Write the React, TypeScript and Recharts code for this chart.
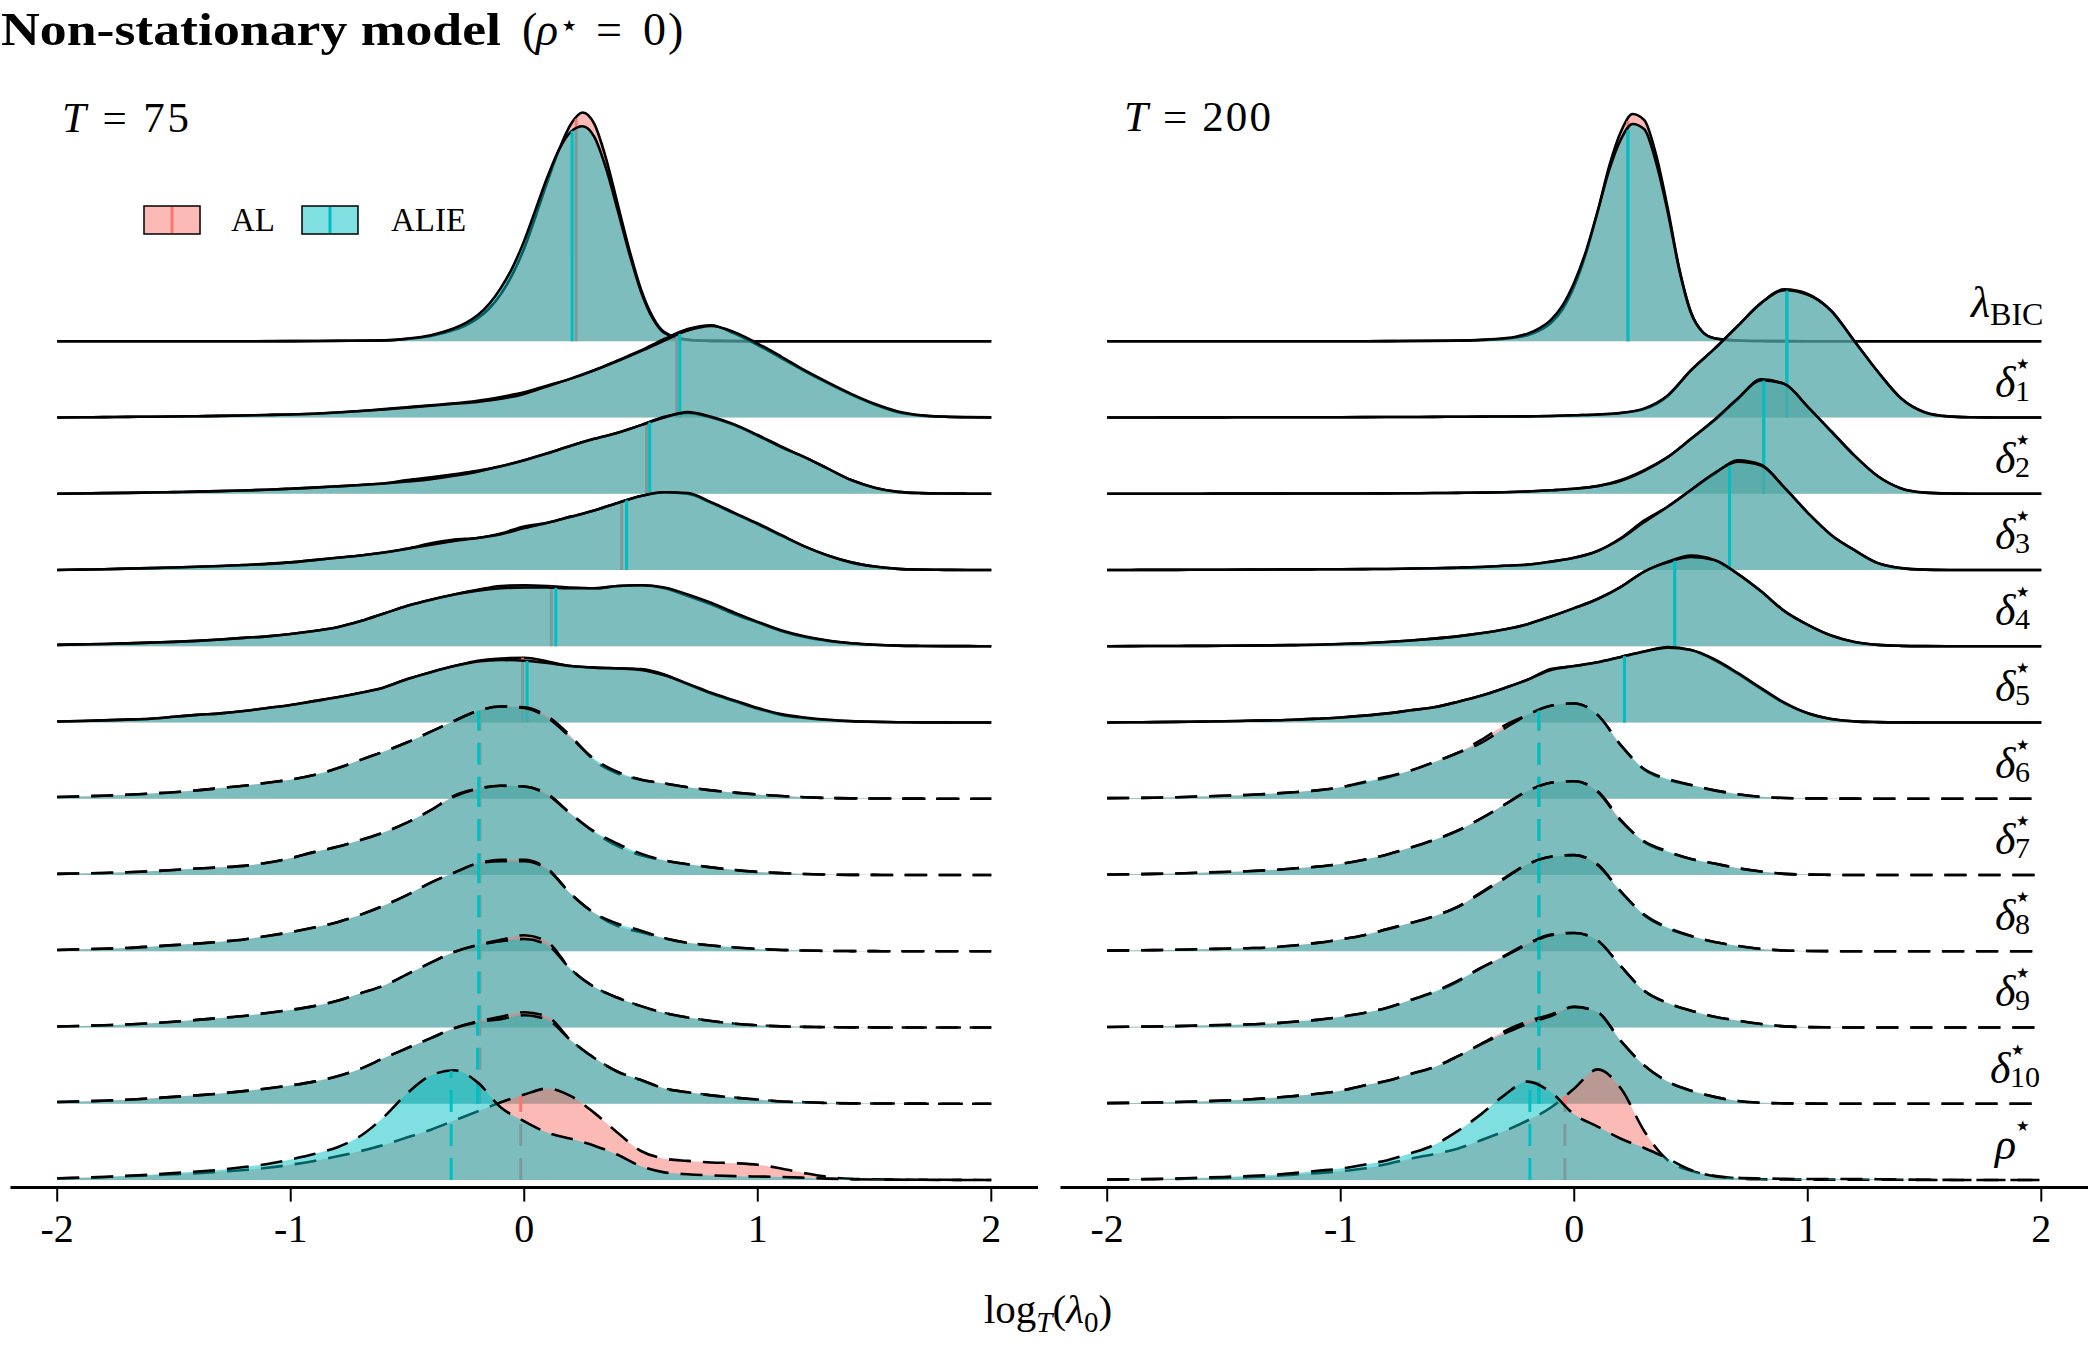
import React from "react";
import { ComposedChart, Area, Line, XAxis, YAxis } from "recharts";

const FONT = '"Liberation Serif", "DejaVu Serif", serif';
const AL_COLOR = "#F8766D";
const ALIE_COLOR = "#00BFC4";

// x grid shared by the ridges (log_T(lambda_0))
const GRID = [
  -2, -1.9, -1.8, -1.7, -1.6, -1.5, -1.4, -1.3, -1.2, -1.1,
  -1, -0.9, -0.8, -0.7, -0.6, -0.5, -0.4, -0.3, -0.2, -0.1,
  0, 0.1, 0.2, 0.3, 0.4, 0.5, 0.6, 0.7, 0.8, 0.9,
  1, 1.1, 1.2, 1.3, 1.4, 1.5, 1.6, 1.7, 1.8, 1.9,
  2,
];
// finer grid for the narrow lambda_BIC ridge
const GRID_BIC = [
  -2, -1.5, -1, -0.8, -0.6, -0.5, -0.4, -0.3, -0.25, -0.2, -0.15, -0.1, -0.05, 0, 0.05, 0.1,
  0.15, 0.2, 0.25, 0.3, 0.35, 0.4, 0.45, 0.5, 0.55, 0.6, 0.7, 0.8, 1, 1.5, 2,
];

const RIDGE_LABELS = ["BIC", "1", "2", "3", "4", "5", "6", "7", "8", "9", "10", "rho"];

// ---------- T = 75 ----------
const AL75_BIC = [0, 0, 0.002, 0.005, 0.01, 0.03, 0.07, 0.15, 0.21, 0.3, 0.43, 0.62, 0.88, 1.22, 1.65, 2.1, 2.52, 2.85, 3.0, 2.85, 2.4, 1.8, 1.2, 0.68, 0.32, 0.12, 0.02, 0.005, 0.001, 0, 0];
const ALIE75_BIC = [0, 0, 0.002, 0.006, 0.012, 0.035, 0.08, 0.17, 0.24, 0.34, 0.49, 0.7, 0.97, 1.32, 1.74, 2.16, 2.52, 2.75, 2.82, 2.68, 2.27, 1.72, 1.15, 0.65, 0.3, 0.11, 0.02, 0.005, 0.001, 0, 0];
const AL75_D1 = [
  0, 0.003, 0.005, 0.008, 0.01, 0.013, 0.017, 0.021, 0.027, 0.033,
  0.04, 0.05, 0.065, 0.085, 0.11, 0.135, 0.16, 0.185, 0.22, 0.27,
  0.33, 0.42, 0.51, 0.62, 0.75, 0.88, 1.03, 1.16, 1.21, 1.1,
  0.95, 0.78, 0.61, 0.45, 0.3, 0.17, 0.07, 0.025, 0.01, 0.004,
  0.002,
];
const ALIE75_D1 = [
  0, 0.003, 0.005, 0.008, 0.01, 0.013, 0.017, 0.021, 0.027, 0.033,
  0.04, 0.05, 0.065, 0.085, 0.105, 0.13, 0.155, 0.18, 0.205, 0.245,
  0.31, 0.41, 0.51, 0.62, 0.74, 0.87, 1.01, 1.14, 1.2, 1.12,
  0.97, 0.8, 0.62, 0.46, 0.31, 0.18, 0.08, 0.03, 0.012, 0.005,
  0.002,
];
const AL75_D2 = [
  0, 0.004, 0.008, 0.012, 0.016, 0.022, 0.028, 0.035, 0.043, 0.053,
  0.066, 0.08, 0.097, 0.115, 0.135, 0.18, 0.215, 0.255, 0.3, 0.36,
  0.44, 0.53, 0.63, 0.72, 0.8, 0.9, 1.01, 1.06, 1.0, 0.9,
  0.76, 0.61, 0.48, 0.33, 0.18, 0.08, 0.025, 0.008, 0.003, 0.001,
  0,
];
const ALIE75_D2 = [
  0, 0.004, 0.008, 0.012, 0.016, 0.022, 0.028, 0.035, 0.043, 0.053,
  0.066, 0.08, 0.097, 0.115, 0.135, 0.16, 0.19, 0.235, 0.29, 0.36,
  0.44, 0.53, 0.63, 0.72, 0.8, 0.9, 1.0, 1.07, 1.01, 0.91,
  0.77, 0.62, 0.48, 0.33, 0.18, 0.08, 0.025, 0.008, 0.003, 0.001,
  0,
];
const AL75_D3 = [
  0, 0.005, 0.01, 0.018, 0.025, 0.033, 0.042, 0.053, 0.066, 0.08,
  0.1, 0.13, 0.16, 0.19, 0.23, 0.28, 0.35, 0.4, 0.42, 0.48,
  0.57, 0.62, 0.7, 0.78, 0.88, 0.97, 1.02, 1.0, 0.88, 0.74,
  0.6, 0.45, 0.31, 0.19, 0.1, 0.045, 0.015, 0.005, 0.002, 0,
  0,
];
const ALIE75_D3 = [
  0, 0.005, 0.01, 0.018, 0.025, 0.033, 0.042, 0.053, 0.066, 0.08,
  0.1, 0.13, 0.16, 0.19, 0.23, 0.28, 0.33, 0.38, 0.42, 0.47,
  0.55, 0.62, 0.7, 0.78, 0.88, 0.97, 1.02, 1.01, 0.89, 0.75,
  0.61, 0.46, 0.31, 0.19, 0.1, 0.045, 0.015, 0.005, 0.002, 0,
  0,
];
const AL75_D4 = [
  0.018, 0.024, 0.03, 0.038, 0.047, 0.057, 0.07, 0.088, 0.11, 0.13,
  0.16, 0.2, 0.25, 0.33, 0.43, 0.53, 0.61, 0.68, 0.74, 0.79,
  0.8, 0.79, 0.77, 0.76, 0.79, 0.8, 0.76, 0.66, 0.55, 0.42,
  0.31, 0.2, 0.12, 0.07, 0.038, 0.019, 0.008, 0.004, 0.002, 0.001,
  0,
];
const ALIE75_D4 = [
  0.018, 0.024, 0.03, 0.038, 0.047, 0.057, 0.07, 0.088, 0.11, 0.13,
  0.16, 0.2, 0.25, 0.33, 0.43, 0.53, 0.61, 0.68, 0.73, 0.76,
  0.77, 0.77, 0.76, 0.76, 0.79, 0.8, 0.77, 0.68, 0.57, 0.44,
  0.32, 0.21, 0.13, 0.075, 0.04, 0.02, 0.008, 0.004, 0.002, 0.001,
  0,
];
const AL75_D5 = [
  0.013, 0.02, 0.028, 0.038, 0.05, 0.075, 0.1, 0.12, 0.15, 0.19,
  0.23, 0.28, 0.33, 0.39, 0.46, 0.57, 0.66, 0.74, 0.81, 0.84,
  0.85, 0.8, 0.74, 0.72, 0.71, 0.7, 0.63, 0.5, 0.38, 0.28,
  0.18, 0.1, 0.06, 0.032, 0.016, 0.008, 0.004, 0.002, 0.001, 0,
  0,
];
const ALIE75_D5 = [
  0.013, 0.02, 0.028, 0.038, 0.05, 0.075, 0.1, 0.12, 0.15, 0.19,
  0.23, 0.28, 0.33, 0.39, 0.46, 0.57, 0.66, 0.74, 0.8, 0.82,
  0.81, 0.78, 0.74, 0.72, 0.71, 0.69, 0.62, 0.51, 0.39, 0.29,
  0.19, 0.11, 0.065, 0.035, 0.018, 0.009, 0.004, 0.002, 0.001, 0,
  0,
];
const AL75_D6 = [
  0.022, 0.03, 0.04, 0.052, 0.068, 0.085, 0.11, 0.14, 0.17, 0.21,
  0.25, 0.31, 0.4, 0.51, 0.62, 0.74, 0.88, 1.02, 1.15, 1.21,
  1.2, 1.08, 0.82, 0.5, 0.33, 0.25, 0.2, 0.15, 0.11, 0.08,
  0.055, 0.035, 0.02, 0.01, 0.005, 0.003, 0.002, 0.001, 0, 0,
  0,
];
const ALIE75_D6 = [
  0.022, 0.03, 0.04, 0.052, 0.068, 0.085, 0.11, 0.14, 0.17, 0.21,
  0.25, 0.31, 0.4, 0.51, 0.62, 0.74, 0.88, 1.02, 1.15, 1.21,
  1.19, 1.06, 0.8, 0.52, 0.35, 0.25, 0.2, 0.15, 0.11, 0.08,
  0.055, 0.035, 0.02, 0.01, 0.005, 0.003, 0.002, 0.001, 0, 0,
  0,
];
const AL75_D7 = [
  0.015, 0.02, 0.027, 0.035, 0.048, 0.065, 0.085, 0.1, 0.12, 0.16,
  0.22, 0.3, 0.37, 0.46, 0.56, 0.69, 0.85, 1.04, 1.13, 1.17,
  1.16, 1.06, 0.8, 0.56, 0.38, 0.26, 0.19, 0.14, 0.1, 0.065,
  0.04, 0.025, 0.012, 0.005, 0.002, 0.001, 0, 0, 0, 0,
  0,
];
const ALIE75_D7 = [
  0.015, 0.02, 0.027, 0.035, 0.048, 0.065, 0.085, 0.1, 0.12, 0.16,
  0.22, 0.3, 0.37, 0.46, 0.56, 0.69, 0.85, 1.03, 1.13, 1.17,
  1.16, 1.05, 0.8, 0.57, 0.41, 0.28, 0.19, 0.14, 0.1, 0.065,
  0.04, 0.025, 0.012, 0.005, 0.002, 0.001, 0, 0, 0, 0,
  0,
];
const AL75_D8 = [
  0.017, 0.025, 0.033, 0.043, 0.06, 0.08, 0.1, 0.125, 0.155, 0.2,
  0.25, 0.31, 0.38, 0.48, 0.6, 0.74, 0.9, 1.03, 1.15, 1.2,
  1.2, 1.08, 0.75, 0.5, 0.33, 0.25, 0.17, 0.11, 0.075, 0.05,
  0.03, 0.017, 0.009, 0.004, 0.002, 0.001, 0, 0, 0, 0,
  0,
];
const ALIE75_D8 = [
  0.017, 0.025, 0.033, 0.043, 0.06, 0.08, 0.1, 0.125, 0.155, 0.2,
  0.25, 0.31, 0.38, 0.48, 0.6, 0.74, 0.9, 1.03, 1.15, 1.18,
  1.18, 1.07, 0.75, 0.5, 0.36, 0.27, 0.17, 0.11, 0.075, 0.05,
  0.03, 0.017, 0.009, 0.004, 0.002, 0.001, 0, 0, 0, 0,
  0,
];
const AL75_D9 = [
  0.013, 0.02, 0.03, 0.04, 0.055, 0.075, 0.1, 0.125, 0.15, 0.19,
  0.23, 0.28, 0.35, 0.45, 0.55, 0.7, 0.85, 0.99, 1.08, 1.15,
  1.21, 1.12, 0.76, 0.53, 0.39, 0.28, 0.19, 0.13, 0.085, 0.05,
  0.028, 0.015, 0.008, 0.004, 0.002, 0.001, 0, 0, 0, 0,
  0,
];
const ALIE75_D9 = [
  0.013, 0.02, 0.03, 0.04, 0.055, 0.075, 0.1, 0.125, 0.15, 0.19,
  0.23, 0.28, 0.35, 0.45, 0.55, 0.7, 0.85, 0.99, 1.08, 1.13,
  1.16, 1.08, 0.76, 0.53, 0.39, 0.28, 0.19, 0.13, 0.085, 0.05,
  0.028, 0.015, 0.008, 0.004, 0.002, 0.001, 0, 0, 0, 0,
  0,
];
const AL75_D10 = [
  0.022, 0.03, 0.04, 0.052, 0.07, 0.09, 0.11, 0.135, 0.165, 0.2,
  0.24, 0.29, 0.36, 0.46, 0.6, 0.73, 0.86, 0.99, 1.08, 1.14,
  1.2, 1.14, 0.83, 0.6, 0.42, 0.31, 0.2, 0.15, 0.11, 0.08,
  0.055, 0.03, 0.02, 0.01, 0.005, 0.003, 0.002, 0.001, 0, 0,
  0,
];
const ALIE75_D10 = [
  0.022, 0.03, 0.04, 0.052, 0.07, 0.09, 0.11, 0.135, 0.165, 0.2,
  0.24, 0.29, 0.36, 0.46, 0.6, 0.73, 0.86, 0.99, 1.07, 1.11,
  1.16, 1.1, 0.83, 0.6, 0.42, 0.31, 0.2, 0.15, 0.11, 0.08,
  0.055, 0.03, 0.02, 0.01, 0.005, 0.003, 0.002, 0.001, 0, 0,
  0,
];
const AL75_RHO = [
  0.02, 0.03, 0.04, 0.05, 0.062, 0.075, 0.09, 0.11, 0.13, 0.16,
  0.2, 0.25, 0.31, 0.38, 0.46, 0.56, 0.66, 0.78, 0.9, 1.02,
  1.12, 1.2, 1.1, 0.88, 0.62, 0.38, 0.28, 0.25, 0.23, 0.22,
  0.2, 0.15, 0.09, 0.04, 0.015, 0.008, 0.005, 0.003, 0.002, 0.001,
  0,
];
const ALIE75_RHO = [
  0.022, 0.03, 0.04, 0.055, 0.07, 0.09, 0.11, 0.135, 0.17, 0.21,
  0.27, 0.34, 0.43, 0.58, 0.83, 1.14, 1.37, 1.44, 1.28, 0.95,
  0.77, 0.62, 0.54, 0.45, 0.33, 0.18, 0.1, 0.075, 0.06, 0.05,
  0.045, 0.04, 0.03, 0.018, 0.01, 0.006, 0.004, 0.002, 0.001, 0,
  0,
];
const MED75_AL = [0.222, 0.653, 0.524, 0.417, 0.116, -0.007, -0.19, -0.19, -0.19, -0.19, -0.19, -0.015];
const MED75_ALIE = [0.205, 0.666, 0.537, 0.438, 0.135, 0.012, -0.195, -0.195, -0.195, -0.195, -0.2, -0.313];

// ---------- T = 200 ----------
const AL200_BIC = [0, 0, 0, 0.002, 0.005, 0.008, 0.015, 0.03, 0.05, 0.08, 0.14, 0.24, 0.42, 0.72, 1.15, 1.7, 2.3, 2.75, 2.98, 2.9, 2.45, 1.75, 0.95, 0.38, 0.12, 0.04, 0.01, 0.003, 0, 0, 0];
const ALIE200_BIC = [0, 0, 0, 0.002, 0.006, 0.01, 0.02, 0.04, 0.06, 0.1, 0.17, 0.28, 0.47, 0.77, 1.18, 1.7, 2.25, 2.65, 2.85, 2.78, 2.35, 1.7, 0.93, 0.37, 0.12, 0.04, 0.01, 0.003, 0, 0, 0];
const AL200_D1 = [
  0, 0.001, 0.001, 0.002, 0.002, 0.002, 0.003, 0.003, 0.004, 0.004,
  0.004, 0.005, 0.006, 0.007, 0.008, 0.01, 0.012, 0.013, 0.015, 0.02,
  0.03, 0.04, 0.06, 0.11, 0.28, 0.62, 0.9, 1.2, 1.5, 1.68,
  1.62, 1.4, 1.0, 0.6, 0.25, 0.07, 0.015, 0.004, 0.001, 0,
  0,
];
const ALIE200_D1 = [
  0, 0.001, 0.001, 0.002, 0.002, 0.002, 0.003, 0.003, 0.004, 0.004,
  0.004, 0.005, 0.006, 0.007, 0.008, 0.01, 0.012, 0.013, 0.015, 0.02,
  0.03, 0.04, 0.06, 0.12, 0.29, 0.62, 0.9, 1.2, 1.5, 1.67,
  1.61, 1.4, 1.0, 0.6, 0.25, 0.07, 0.015, 0.004, 0.001, 0,
  0,
];
const AL200_D2 = [
  0, 0, 0, 0.001, 0.001, 0.002, 0.002, 0.002, 0.003, 0.003,
  0.003, 0.004, 0.005, 0.007, 0.009, 0.012, 0.015, 0.02, 0.03, 0.045,
  0.065, 0.1, 0.18, 0.31, 0.48, 0.72, 0.96, 1.24, 1.5, 1.44,
  1.14, 0.82, 0.5, 0.23, 0.07, 0.015, 0.003, 0.001, 0, 0,
  0,
];
const ALIE200_D2 = [
  0, 0, 0, 0.001, 0.001, 0.002, 0.002, 0.002, 0.003, 0.003,
  0.003, 0.004, 0.005, 0.007, 0.009, 0.012, 0.015, 0.02, 0.03, 0.045,
  0.065, 0.1, 0.17, 0.3, 0.48, 0.72, 0.97, 1.25, 1.49, 1.44,
  1.14, 0.82, 0.5, 0.23, 0.07, 0.015, 0.003, 0.001, 0, 0,
  0,
];
const AL200_D3 = [
  0, 0.001, 0.002, 0.002, 0.003, 0.004, 0.005, 0.006, 0.008, 0.009,
  0.01, 0.012, 0.014, 0.018, 0.022, 0.03, 0.04, 0.055, 0.07, 0.11,
  0.16, 0.25, 0.42, 0.65, 0.83, 1.05, 1.26, 1.44, 1.38, 1.08,
  0.75, 0.46, 0.26, 0.09, 0.025, 0.005, 0.001, 0, 0, 0,
  0,
];
const ALIE200_D3 = [
  0, 0.001, 0.002, 0.002, 0.003, 0.004, 0.005, 0.006, 0.008, 0.009,
  0.01, 0.012, 0.014, 0.018, 0.022, 0.03, 0.04, 0.055, 0.07, 0.11,
  0.16, 0.25, 0.41, 0.63, 0.83, 1.05, 1.27, 1.42, 1.37, 1.08,
  0.75, 0.46, 0.26, 0.09, 0.025, 0.005, 0.001, 0, 0, 0,
  0,
];
const AL200_D4 = [
  0, 0.002, 0.003, 0.004, 0.005, 0.006, 0.008, 0.011, 0.015, 0.02,
  0.03, 0.04, 0.055, 0.075, 0.1, 0.13, 0.17, 0.22, 0.29, 0.39,
  0.5, 0.62, 0.78, 0.98, 1.11, 1.19, 1.13, 0.95, 0.72, 0.46,
  0.28, 0.14, 0.055, 0.018, 0.005, 0.001, 0, 0, 0, 0,
  0,
];
const ALIE200_D4 = [
  0, 0.002, 0.003, 0.004, 0.005, 0.006, 0.008, 0.011, 0.015, 0.02,
  0.03, 0.04, 0.055, 0.075, 0.1, 0.13, 0.17, 0.22, 0.29, 0.39,
  0.5, 0.62, 0.78, 0.98, 1.1, 1.17, 1.13, 0.95, 0.72, 0.46,
  0.28, 0.14, 0.055, 0.018, 0.005, 0.001, 0, 0, 0, 0,
  0,
];
const AL200_D5 = [
  0, 0.003, 0.005, 0.008, 0.012, 0.016, 0.022, 0.028, 0.036, 0.05,
  0.066, 0.09, 0.12, 0.16, 0.2, 0.27, 0.35, 0.45, 0.56, 0.7,
  0.74, 0.79, 0.86, 0.93, 0.99, 0.95, 0.82, 0.64, 0.44, 0.25,
  0.12, 0.045, 0.015, 0.005, 0.001, 0, 0, 0, 0, 0,
  0,
];
const ALIE200_D5 = [
  0, 0.003, 0.005, 0.008, 0.012, 0.016, 0.022, 0.028, 0.036, 0.05,
  0.066, 0.09, 0.12, 0.16, 0.2, 0.27, 0.35, 0.45, 0.56, 0.69,
  0.74, 0.79, 0.86, 0.93, 0.98, 0.95, 0.83, 0.65, 0.45, 0.26,
  0.12, 0.045, 0.015, 0.005, 0.001, 0, 0, 0, 0, 0,
  0,
];
const AL200_D6 = [
  0.008, 0.01, 0.013, 0.02, 0.03, 0.04, 0.05, 0.065, 0.085, 0.11,
  0.15, 0.21, 0.28, 0.37, 0.48, 0.6, 0.77, 0.96, 1.1, 1.22,
  1.25, 1.1, 0.7, 0.38, 0.25, 0.18, 0.11, 0.06, 0.025, 0.01,
  0.005, 0.002, 0.001, 0, 0, 0, 0, 0, 0, 0,
  0,
];
const ALIE200_D6 = [
  0.008, 0.01, 0.013, 0.02, 0.03, 0.04, 0.05, 0.065, 0.085, 0.11,
  0.15, 0.22, 0.29, 0.37, 0.48, 0.6, 0.73, 0.92, 1.1, 1.22,
  1.25, 1.1, 0.7, 0.39, 0.26, 0.18, 0.11, 0.06, 0.025, 0.01,
  0.005, 0.002, 0.001, 0, 0, 0, 0, 0, 0, 0,
  0,
];
const AL200_D7 = [
  0.006, 0.01, 0.014, 0.02, 0.03, 0.04, 0.05, 0.064, 0.085, 0.11,
  0.145, 0.2, 0.27, 0.36, 0.46, 0.58, 0.74, 0.92, 1.1, 1.21,
  1.23, 1.1, 0.72, 0.43, 0.3, 0.21, 0.15, 0.09, 0.045, 0.015,
  0.005, 0.002, 0, 0, 0, 0, 0, 0, 0, 0,
  0,
];
const ALIE200_D7 = [
  0.006, 0.01, 0.014, 0.02, 0.03, 0.04, 0.05, 0.064, 0.085, 0.11,
  0.145, 0.2, 0.27, 0.36, 0.46, 0.58, 0.74, 0.92, 1.1, 1.21,
  1.23, 1.09, 0.71, 0.44, 0.31, 0.21, 0.15, 0.09, 0.045, 0.015,
  0.005, 0.002, 0, 0, 0, 0, 0, 0, 0, 0,
  0,
];
const AL200_D8 = [
  0.008, 0.011, 0.015, 0.02, 0.026, 0.033, 0.04, 0.05, 0.075, 0.11,
  0.155, 0.21, 0.29, 0.37, 0.46, 0.58, 0.77, 0.96, 1.14, 1.24,
  1.26, 1.14, 0.78, 0.47, 0.3, 0.2, 0.12, 0.07, 0.03, 0.01,
  0.004, 0.001, 0, 0, 0, 0, 0, 0, 0, 0,
  0,
];
const ALIE200_D8 = [
  0.008, 0.011, 0.015, 0.02, 0.026, 0.033, 0.04, 0.05, 0.075, 0.11,
  0.155, 0.21, 0.29, 0.37, 0.46, 0.58, 0.76, 0.95, 1.14, 1.24,
  1.26, 1.13, 0.78, 0.48, 0.31, 0.2, 0.12, 0.07, 0.03, 0.01,
  0.004, 0.001, 0, 0, 0, 0, 0, 0, 0, 0,
  0,
];
const AL200_D9 = [
  0.006, 0.009, 0.013, 0.018, 0.025, 0.032, 0.04, 0.052, 0.075, 0.1,
  0.14, 0.19, 0.26, 0.36, 0.46, 0.6, 0.78, 0.94, 1.1, 1.22,
  1.24, 1.14, 0.8, 0.48, 0.32, 0.22, 0.14, 0.09, 0.045, 0.015,
  0.005, 0.002, 0, 0, 0, 0, 0, 0, 0, 0,
  0,
];
const ALIE200_D9 = [
  0.006, 0.009, 0.013, 0.018, 0.025, 0.032, 0.04, 0.052, 0.075, 0.1,
  0.14, 0.19, 0.26, 0.36, 0.47, 0.61, 0.78, 0.93, 1.09, 1.21,
  1.24, 1.14, 0.8, 0.48, 0.32, 0.22, 0.14, 0.09, 0.045, 0.015,
  0.005, 0.002, 0, 0, 0, 0, 0, 0, 0, 0,
  0,
];
const AL200_D10 = [
  0.008, 0.011, 0.016, 0.022, 0.03, 0.042, 0.056, 0.075, 0.1, 0.13,
  0.17, 0.24, 0.3, 0.39, 0.48, 0.62, 0.78, 0.95, 1.08, 1.17,
  1.27, 1.2, 0.82, 0.5, 0.29, 0.17, 0.09, 0.035, 0.012, 0.005,
  0.002, 0, 0, 0, 0, 0, 0, 0, 0, 0,
  0,
];
const ALIE200_D10 = [
  0.008, 0.011, 0.016, 0.022, 0.03, 0.042, 0.056, 0.075, 0.1, 0.13,
  0.17, 0.24, 0.3, 0.39, 0.48, 0.62, 0.78, 0.92, 1.05, 1.15,
  1.27, 1.2, 0.82, 0.5, 0.29, 0.17, 0.09, 0.035, 0.012, 0.005,
  0.002, 0, 0, 0, 0, 0, 0, 0, 0, 0,
  0,
];
const AL200_RHO = [
  0.005, 0.008, 0.011, 0.015, 0.02, 0.027, 0.035, 0.05, 0.07, 0.09,
  0.115, 0.15, 0.21, 0.28, 0.34, 0.41, 0.52, 0.64, 0.78, 0.95,
  1.2, 1.45, 1.2, 0.64, 0.26, 0.12, 0.055, 0.02, 0.01, 0.006,
  0.005, 0.005, 0.004, 0.003, 0.002, 0.001, 0, 0, 0, 0,
  0,
];
const ALIE200_RHO = [
  0.006, 0.009, 0.013, 0.02, 0.03, 0.04, 0.052, 0.066, 0.09, 0.12,
  0.15, 0.2, 0.26, 0.35, 0.46, 0.64, 0.86, 1.11, 1.29, 1.15,
  0.86, 0.7, 0.54, 0.42, 0.28, 0.13, 0.05, 0.028, 0.02, 0.015,
  0.012, 0.012, 0.013, 0.01, 0.006, 0.003, 0.001, 0, 0, 0,
  0,
];
const MED200_AL = [0.23, 0.91, 0.81, 0.665, 0.43, 0.215, -0.15, -0.15, -0.15, -0.15, -0.15, -0.04];
const MED200_ALIE = [0.23, 0.911, 0.812, 0.665, 0.43, 0.215, -0.152, -0.152, -0.152, -0.152, -0.152, -0.19];

const PANEL_75 = {
  al: [AL75_BIC, AL75_D1, AL75_D2, AL75_D3, AL75_D4, AL75_D5, AL75_D6, AL75_D7, AL75_D8, AL75_D9, AL75_D10, AL75_RHO],
  alie: [ALIE75_BIC, ALIE75_D1, ALIE75_D2, ALIE75_D3, ALIE75_D4, ALIE75_D5, ALIE75_D6, ALIE75_D7, ALIE75_D8, ALIE75_D9, ALIE75_D10, ALIE75_RHO],
  medAl: MED75_AL,
  medAlie: MED75_ALIE,
};
const PANEL_200 = {
  al: [AL200_BIC, AL200_D1, AL200_D2, AL200_D3, AL200_D4, AL200_D5, AL200_D6, AL200_D7, AL200_D8, AL200_D9, AL200_D10, AL200_RHO],
  alie: [ALIE200_BIC, ALIE200_D1, ALIE200_D2, ALIE200_D3, ALIE200_D4, ALIE200_D5, ALIE200_D6, ALIE200_D7, ALIE200_D8, ALIE200_D9, ALIE200_D10, ALIE200_RHO],
  medAl: MED200_AL,
  medAlie: MED200_ALIE,
};

const N = RIDGE_LABELS.length;
const Y_DOMAIN = [-0.1, 14.5];
const CHART_W = 1050;
const CHART_H = 1350;
const X_AXIS_H = 60;
const MARGIN = { top: 74.4, right: 12, bottom: 102.4, left: 10.5 };
// pixel helpers for the overlay text (same scale as the charts)
const UNIT_PX = (CHART_H - MARGIN.top - MARGIN.bottom - X_AXIS_H) / (Y_DOMAIN[1] - Y_DOMAIN[0]);
const baseY = (off: number) => MARGIN.top + (Y_DOMAIN[1] - off) * UNIT_PX;

function valueAt(xs: number[], ys: number[], x: number) {
  for (let i = 0; i < xs.length - 1; i++) {
    if (x >= xs[i] && x <= xs[i + 1]) {
      const t = (x - xs[i]) / (xs[i + 1] - xs[i]);
      return ys[i] + t * (ys[i + 1] - ys[i]);
    }
  }
  return 0;
}

function RidgePanel({ panel }: { panel: typeof PANEL_75 }) {
  const items: React.ReactNode[] = [];
  let z = 101;
  for (let i = 0; i < N; i++) {
    const off = N - 1 - i;
    const xs = i === 0 ? GRID_BIC : GRID;
    const dashed = i >= 6;
    const groups: [number[], number, string, string][] = [
      [panel.al[i], panel.medAl[i], AL_COLOR, "al"],
      [panel.alie[i], panel.medAlie[i], ALIE_COLOR, "alie"],
    ];
    for (const [vals, med, color, name] of groups) {
      const data = xs.map((x, k) => ({ x, y: off + vals[k] }));
      items.push(
        <Area
          key={`${name}-${i}`}
          data={data}
          dataKey="y"
          baseValue={off}
          type="monotone"
          fill={color}
          fillOpacity={0.5}
          stroke="#000"
          strokeWidth={2.6}
          strokeDasharray={dashed ? "22 12" : undefined}
          dot={false}
          activeDot={false}
          isAnimationActive={false}
          zIndex={z++}
        />
      );
      const h = valueAt(xs, vals, med);
      items.push(
        <Line
          key={`${name}-med-${i}`}
          data={[{ x: med, y: off }, { x: med, y: off + h }]}
          dataKey="y"
          type="linear"
          stroke={color}
          strokeWidth={3}
          strokeDasharray={dashed ? "22 12" : undefined}
          dot={false}
          activeDot={false}
          isAnimationActive={false}
          zIndex={z++}
        />
      );
    }
  }
  return (
    <ComposedChart width={CHART_W} height={CHART_H} margin={MARGIN}>
      <XAxis
        type="number"
        dataKey="x"
        domain={[-2.2, 2.2]}
        ticks={[-2, -1, 0, 1, 2]}
        allowDataOverflow
        height={X_AXIS_H}
        tickSize={14}
        tickMargin={12}
        tick={{ fontSize: 40, fill: "#000", fontFamily: FONT }}
        axisLine={{ stroke: "#000", strokeWidth: 3 }}
        tickLine={{ stroke: "#000", strokeWidth: 2 }}
      />
      <YAxis hide type="number" domain={Y_DOMAIN} allowDataOverflow />
      {items}
    </ComposedChart>
  );
}

function RidgeLabel({ idx }: { idx: number }) {
  const off = N - 1 - idx;
  const y = baseY(off) - 21;
  const key = RIDGE_LABELS[idx];
  if (key === "BIC") {
    return (
      <text x={1971} y={y - 3} fontSize={44} fontFamily={FONT}>
        <tspan fontStyle="italic">λ</tspan>
        <tspan fontSize={32} dy={8}>BIC</tspan>
      </text>
    );
  }
  const main = key === "rho" ? "ρ" : "δ";
  const sub = key === "rho" ? "" : key;
  const x0 = sub.length > 1 ? 1990 : 1995;
  return (
    <g fontFamily={FONT}>
      <text x={x0} y={y} fontSize={44} fontStyle="italic">{main}</text>
      <text x={x0 + 21} y={y - 28} fontSize={15} fontFamily="DejaVu Sans">★</text>
      {sub && <text x={x0 + 20} y={y + 4} fontSize={30}>{sub}</text>}
    </g>
  );
}

function Overlay() {
  return (
    <svg width={2100} height={1350} style={{ position: "absolute", left: 0, top: 0, pointerEvents: "none" }}>
      <text x={1} y={45} fontSize={46} fontWeight="bold" fontFamily={FONT} textLength={500} lengthAdjust="spacingAndGlyphs">
        Non-stationary model
      </text>
      <g fontSize={46} fontFamily={FONT}>
        <text x={522} y={45}>(</text>
        <text x={536} y={45} fontStyle="italic">ρ</text>
        <text x={562} y={31} fontSize={16} fontFamily="DejaVu Sans">★</text>
        <text x={596} y={45}>=</text>
        <text x={643} y={45}>0</text>
        <text x={668} y={45}>)</text>
      </g>

      <text x={62} y={132} fontSize={43} fontFamily={FONT} textLength={127} lengthAdjust="spacing">
        <tspan fontStyle="italic">T</tspan> = 75
      </text>
      <text x={1124} y={131} fontSize={43} fontFamily={FONT} textLength={147} lengthAdjust="spacing">
        <tspan fontStyle="italic">T</tspan> = 200
      </text>

      {/* legend */}
      <rect x={144} y={206} width={56} height={28} fill={AL_COLOR} fillOpacity={0.5} stroke="#000" strokeWidth={1.5} />
      <line x1={172} y1={207} x2={172} y2={233} stroke={AL_COLOR} strokeWidth={3} />
      <text x={231} y={231} fontSize={33} fontFamily={FONT}>AL</text>
      <rect x={302} y={206} width={56} height={28} fill={ALIE_COLOR} fillOpacity={0.5} stroke="#000" strokeWidth={1.5} />
      <line x1={330} y1={207} x2={330} y2={233} stroke={ALIE_COLOR} strokeWidth={3} />
      <text x={391} y={231} fontSize={33} fontFamily={FONT}>ALIE</text>

      {RIDGE_LABELS.map((_, i) => (
        <RidgeLabel key={i} idx={i} />
      ))}

      <text x={1048} y={1323} fontSize={41} fontFamily={FONT} textAnchor="middle">
        log<tspan fontSize={29} fontStyle="italic" dy={9}>T</tspan>
        <tspan dy={-9}>(</tspan>
        <tspan fontStyle="italic">λ</tspan>
        <tspan fontSize={29} dy={9}>0</tspan>
        <tspan dy={-9}>)</tspan>
      </text>
    </svg>
  );
}

export default function App() {
  return (
    <div style={{ position: "absolute", left: 0, top: 0, width: 2100, height: 1350, background: "#fff", fontFamily: FONT }}>
      <div style={{ position: "absolute", left: 0, top: 0 }}>
        <RidgePanel panel={PANEL_75} />
      </div>
      <div style={{ position: "absolute", left: 1050, top: 0 }}>
        <RidgePanel panel={PANEL_200} />
      </div>
      <Overlay />
    </div>
  );
}
